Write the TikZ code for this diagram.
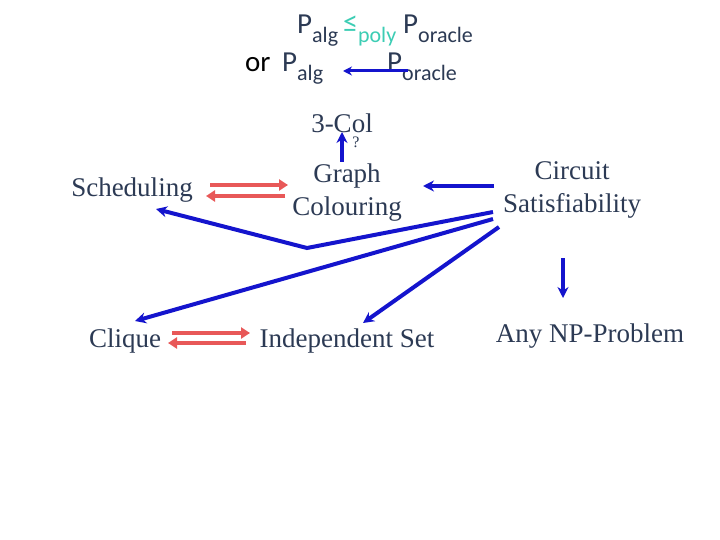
\documentclass[tikz,border=0pt]{standalone}
\usepackage{fontspec}
\setmainfont{Liberation Serif}
\newfontfamily\calib{Carlito}
\usetikzlibrary{arrows.meta}
\definecolor{txt}{RGB}{44,58,84}
\definecolor{arrblue}{RGB}{20,20,205}
\definecolor{arrred}{RGB}{232,88,88}
\definecolor{teal2}{RGB}{60,205,180}
\begin{document}
\begin{tikzpicture}[x=1pt,y=-1pt,
  lbl/.style={inner sep=0pt,text=txt,font=\fontsize{27}{33}\selectfont,align=center},
  top/.style={inner sep=0pt,font=\calib\fontsize{29}{30}\selectfont},
  bluearr/.style={draw=arrblue,line width=4pt,-{Stealth[length=11pt,width=11pt]}},
  thinblue/.style={draw=arrblue,line width=3pt,-{Stealth[length=9pt,width=9pt]}},
  redarr/.style={draw=arrred,line width=4.5pt,-{Triangle[length=9pt,width=11pt]}}]
\useasboundingbox[fill=white] (0,0) rectangle (720,540);
\newcommand{\mysub}[1]{\raisebox{-9pt}{\fontsize{22}{23}\selectfont #1}}
% top text
\node[top,anchor=base west,text=txt] (eq) at (297,34)
  {P\mysub{alg}\hspace{5pt}{\color{teal2}\raisebox{1pt}{\fontsize{30}{30}\selectfont ≤}\mysub{poly}}\hspace{7pt}P\mysub{oracle}};
\node[top,anchor=base west,text=black] (or) at (245,72) {or};
\node[top,anchor=base west,text=txt] (palg) at (282,72) {P\mysub{alg}};
\node[top,anchor=base west,text=txt] (pora) at (387,72) {P\mysub{oracle}};
\draw[thinblue] ([shift={(21,-1)}]pora.base west) -- ([shift={(61,-1)}]palg.base west);
% nodes
\node[lbl] (col) at (342,123) {3-Col};
\node[inner sep=0pt,text=txt,font=\fontsize{16}{18}\selectfont] (q) at (356,142) {?};
\node[lbl] (sched) at (132,190) {Scheduling};
\node[lbl] (graph) at (347,193) {Graph\\Colouring};
\node[lbl] (circ) at (572,190) {Circuit\\Satisfiability};
\node[lbl] (clique) at (125,341) {Clique};
\node[lbl] (indep) at (347,341) {Independent Set};
\node[lbl] (np) at (590,336) {Any NP-Problem};
% connectors
\draw[redarr] ([shift={(78,-5)}]sched.center) -- ([shift={(-59,-8)}]graph.center);
\draw[redarr] ([shift={(-62,3)}]graph.center) -- ([shift={(74,6)}]sched.center);
\draw[bluearr] ([shift={(-78,-4)}]circ.center) -- ([shift={(76,-7)}]graph.center);
\draw[bluearr] ([shift={(-79,22)}]circ.center) -- (307,248) -- ([shift={(24,19)}]sched.center);
\draw[bluearr] ([shift={(-79,29)}]circ.center) -- ([shift={(10,-20)}]clique.center);
\draw[bluearr] ([shift={(-73,37)}]circ.center) -- ([shift={(16,-18)}]indep.center);
\draw[bluearr] ([shift={(-9,68)}]circ.center) -- ([shift={(-27,-38)}]np.center);
\draw[bluearr] ([shift={(-5,-31)}]graph.center) -- ([shift={(0,9)}]col.center);
\draw[redarr] ([shift={(47,-8)}]clique.center) -- ([shift={(-97,-8)}]indep.center);
\draw[redarr] ([shift={(-101,2)}]indep.center) -- ([shift={(43,2)}]clique.center);
\end{tikzpicture}
\end{document}
